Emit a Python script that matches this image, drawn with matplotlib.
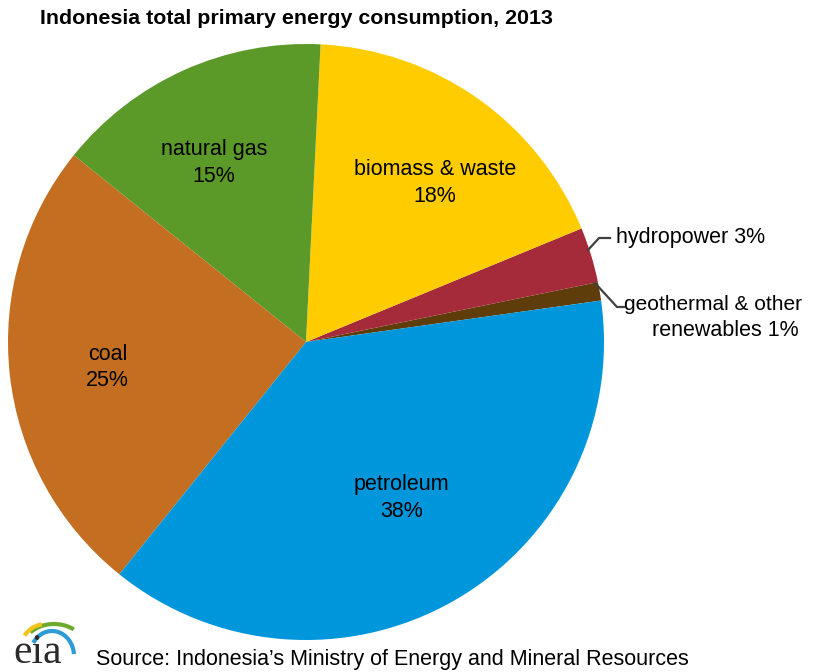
import matplotlib.pyplot as plt
import numpy as np
from matplotlib.patches import Arc

plt.rcParams['font.family'] = ['Liberation Sans', 'DejaVu Sans']

# Indonesia primary energy consumption shares, 2013 (percent)
fuels = ["geothermal & other\nrenewables", "hydropower", "biomass & waste",
         "natural gas", "coal", "petroleum"]
shares = [1, 3, 18, 15, 25, 38]
colors = ["#5E3D0A", "#A52A3A", "#FFCC00", "#5B9A29", "#C36E20", "#0096DB"]

W, H = 826, 672
cx, cy, R = 306, 342, 298

fig = plt.figure(figsize=(W / 100, H / 100), dpi=100)
ax = fig.add_axes([0, 0, 1, 1])


def py(y):
    # top-down pixel rows -> data y
    return H - y


wedges, _ = ax.pie(shares, colors=colors, startangle=8, counterclock=True,
                   center=(cx, py(cy)), radius=R,
                   wedgeprops=dict(linewidth=0))
ax.set_xlim(0, W)
ax.set_ylim(0, H)
ax.set_aspect("auto")
ax.axis("off")

# labels inside the large wedges: (radius fraction, angle nudge in degrees)
inside = {2: (0.69, -3.6), 3: (0.68, 2.8), 4: (0.67, 0.7), 5: (0.61, 2.0)}
for i, (rr, nudge) in inside.items():
    w = wedges[i]
    mid = np.deg2rad((w.theta1 + w.theta2) / 2 + nudge)
    x = cx + rr * R * np.cos(mid)
    y = py(cy + 1.5) + rr * R * np.sin(mid)
    ax.text(x, y, f"{fuels[i]}\n{shares[i]}%", ha="center", va="center",
            fontsize=15.5, linespacing=1.36)

# leader lines for the thin wedges
ax.plot([588, 599, 610], [py(250), py(238), py(238)], color="#404040", lw=1.6)
ax.text(616, py(238), f"{fuels[1]} {shares[1]}%", ha="left", va="center",
        fontsize=15.5)
ax.plot([595, 617, 624], [py(283), py(307), py(307)], color="#404040", lw=1.6)
geo_top, geo_bottom = fuels[0].split("\n")
ax.text(802, py(305), geo_top, ha="right", va="center", fontsize=15)
ax.text(799, py(331), f"{geo_bottom} {shares[0]}%", ha="right", va="center",
        fontsize=15.5)

ax.text(40, py(18), "Indonesia total primary energy consumption, 2013",
        ha="left", va="center", fontsize=15.4, fontweight="bold")
ax.text(96, py(659), "Source: Indonesia\u2019s Ministry of Energy and Mineral Resources",
        ha="left", va="center", fontsize=15.5)

# eia logo
ax.text(38, py(663), "eia", ha="center", va="baseline", fontsize=30,
        family="Liberation Serif", color="#2B2B2B")
for (x0, y0, w_, h_, c, t1, t2) in [(52, 656, 44, 50, "#2C9BD6", 5, 145),
                                   (54, 646, 60, 44, "#6BAA2C", 40, 150),
                                   (46, 648, 50, 48, "#F2C318", 100, 150)]:
    ax.add_patch(Arc((x0, py(y0)), w_, h_, theta1=t1, theta2=t2,
                     color=c, lw=3))

fig.savefig("out.png", dpi=100)
